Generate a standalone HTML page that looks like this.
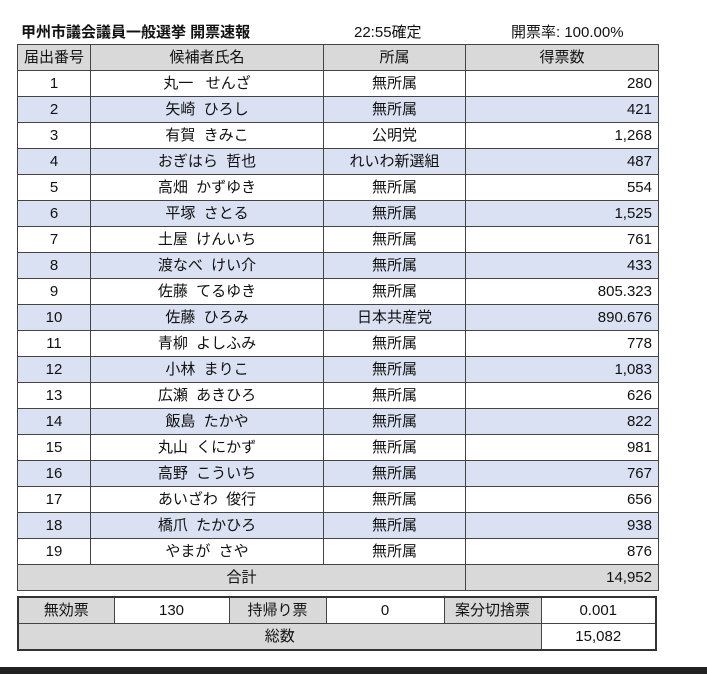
<!DOCTYPE html>
<html><head><meta charset="utf-8"><style>
body{margin:0;width:707px;height:674px;background:#fff;position:relative;overflow:hidden;font-family:"Liberation Sans","Noto Sans CJK JP",sans-serif;color:#111}
.t{position:absolute;top:21px;font-size:15px;white-space:nowrap}
table{position:absolute;border-collapse:collapse;table-layout:fixed;font-size:15px}
td{border:1px solid #444;padding:0 6px;text-align:center;height:25px;line-height:25px;white-space:nowrap;overflow:hidden}
td.r{text-align:right}
.g{background:#d9d9d9}
tr.b td{background:#dae1f2}
#m{left:17px;top:44px;width:641px}
#s{left:17px;top:596px;width:638px;border:2px solid #333}
.bar{position:absolute;left:0;top:667px;width:707px;height:7px;background:#222}
</style></head><body>
<div class="t" style="left:21px;font-weight:bold">甲州市議会議員一般選挙 開票速報</div>
<div class="t" style="left:354px">22:55確定</div>
<div class="t" style="left:511px">開票率: 100.00%</div>
<table id="m">
<colgroup><col style="width:73px"><col style="width:233px"><col style="width:142px"><col style="width:193px"></colgroup>
<tr class="g"><td class="g">届出番号</td><td class="g">候補者氏名</td><td class="g">所属</td><td class="g">得票数</td></tr>
<tr><td>1</td><td>丸一&nbsp;&nbsp;&nbsp;せんざ</td><td>無所属</td><td class="r">280</td></tr>
<tr class="b"><td>2</td><td>矢崎&nbsp;&nbsp;ひろし</td><td>無所属</td><td class="r">421</td></tr>
<tr><td>3</td><td>有賀&nbsp;&nbsp;きみこ</td><td>公明党</td><td class="r">1,268</td></tr>
<tr class="b"><td>4</td><td>おぎはら&nbsp;&nbsp;哲也</td><td>れいわ新選組</td><td class="r">487</td></tr>
<tr><td>5</td><td>高畑&nbsp;&nbsp;かずゆき</td><td>無所属</td><td class="r">554</td></tr>
<tr class="b"><td>6</td><td>平塚&nbsp;&nbsp;さとる</td><td>無所属</td><td class="r">1,525</td></tr>
<tr><td>7</td><td>土屋&nbsp;&nbsp;けんいち</td><td>無所属</td><td class="r">761</td></tr>
<tr class="b"><td>8</td><td>渡なべ&nbsp;&nbsp;けい介</td><td>無所属</td><td class="r">433</td></tr>
<tr><td>9</td><td>佐藤&nbsp;&nbsp;てるゆき</td><td>無所属</td><td class="r">805.323</td></tr>
<tr class="b"><td>10</td><td>佐藤&nbsp;&nbsp;ひろみ</td><td>日本共産党</td><td class="r">890.676</td></tr>
<tr><td>11</td><td>青柳&nbsp;&nbsp;よしふみ</td><td>無所属</td><td class="r">778</td></tr>
<tr class="b"><td>12</td><td>小林&nbsp;&nbsp;まりこ</td><td>無所属</td><td class="r">1,083</td></tr>
<tr><td>13</td><td>広瀬&nbsp;&nbsp;あきひろ</td><td>無所属</td><td class="r">626</td></tr>
<tr class="b"><td>14</td><td>飯島&nbsp;&nbsp;たかや</td><td>無所属</td><td class="r">822</td></tr>
<tr><td>15</td><td>丸山&nbsp;&nbsp;くにかず</td><td>無所属</td><td class="r">981</td></tr>
<tr class="b"><td>16</td><td>高野&nbsp;&nbsp;こういち</td><td>無所属</td><td class="r">767</td></tr>
<tr><td>17</td><td>あいざわ&nbsp;&nbsp;俊行</td><td>無所属</td><td class="r">656</td></tr>
<tr class="b"><td>18</td><td>橋爪&nbsp;&nbsp;たかひろ</td><td>無所属</td><td class="r">938</td></tr>
<tr><td>19</td><td>やまが&nbsp;&nbsp;さや</td><td>無所属</td><td class="r">876</td></tr>
<tr><td class="g" colspan="3">合計</td><td class="r g">14,952</td></tr>
</table>
<table id="s">
<colgroup><col style="width:96px"><col style="width:115px"><col style="width:97px"><col style="width:118px"><col style="width:97px"><col style="width:115px"></colgroup>
<tr><td class="g">無効票</td><td>130</td><td class="g">持帰り票</td><td>0</td><td class="g">案分切捨票</td><td>0.001</td></tr>
<tr><td class="g" colspan="5">総数</td><td>15,082</td></tr>
</table>
<div class="bar"></div>
</body></html>
